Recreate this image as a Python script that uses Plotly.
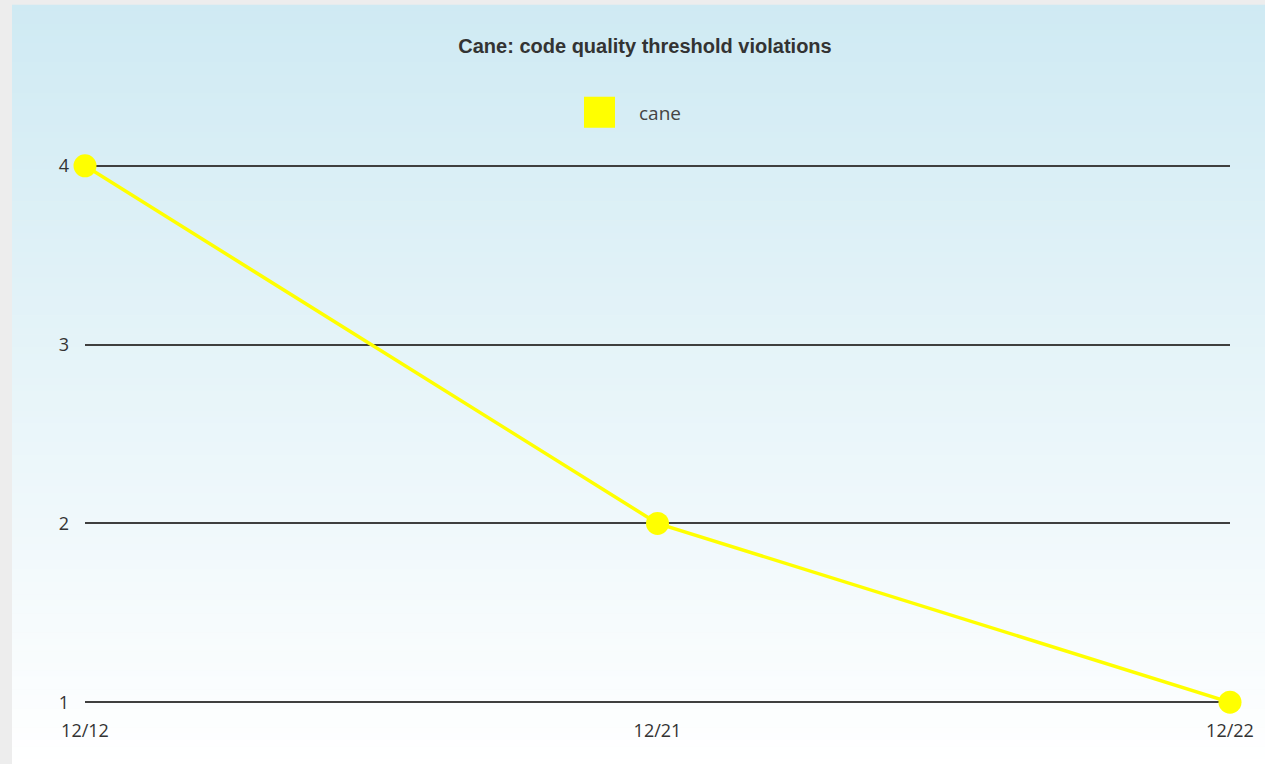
import plotly.graph_objects as go

categories = ["12/12", "12/21", "12/22"]
violations = [4, 2, 1]
y_ticks = [1, 2, 3, 4]
series_name = "cane"
title_text = "Cane: code quality threshold violations"

W, H = 1265, 764
L, R = 85, 1230
Y4, Y1 = 166, 702          # pixel rows of y=4 and y=1
EPS = 0.01
ppu = (Y1 - Y4) / 3.0
T = Y4 - EPS * ppu
B = Y1 + EPS * ppu


def px_to_paper_x(px):
    return (px - L) / (R - L)


def px_to_paper_y(py):
    return (B - py) / (B - T)


fig = go.Figure()
fig.add_trace(go.Scatter(
    x=categories, y=violations, mode="lines+markers", name=series_name,
    line=dict(color="#ffff00", width=3.5),
    marker=dict(color="#ffff00", size=23),
    cliponaxis=False, showlegend=False,
))

# background gradient panel (stripes)
shapes = []
top_px, bot_px = 5, 765
n = 120
c0 = (207, 234, 243)
c1 = (255, 255, 255)
for i in range(n):
    y0p = top_px + (bot_px - top_px) * i / n
    y1p = top_px + (bot_px - top_px) * (i + 1) / n + 0.6
    t = (i + 0.5) / n
    col = tuple(round(c0[k] + (c1[k] - c0[k]) * t) for k in range(3))
    shapes.append(dict(
        type="rect", xref="paper", yref="paper",
        x0=px_to_paper_x(12), x1=px_to_paper_x(1266),
        y0=px_to_paper_y(y1p), y1=px_to_paper_y(y0p),
        fillcolor="rgb(%d,%d,%d)" % col, line=dict(width=0), layer="below",
    ))

# legend swatch
shapes.append(dict(
    type="rect", xref="paper", yref="paper",
    x0=px_to_paper_x(584), x1=px_to_paper_x(615),
    y0=px_to_paper_y(128), y1=px_to_paper_y(97),
    fillcolor="#ffff00", line=dict(width=0), layer="above",
))

annotations = [
    dict(text=series_name, xref="paper", yref="paper",
         x=px_to_paper_x(637), y=px_to_paper_y(113),
         xanchor="left", yanchor="middle", showarrow=False,
         font=dict(family="Open Sans, Noto Sans, sans-serif", size=19, color="#444")),
]

tick_font = dict(family="Open Sans, Noto Sans, sans-serif", size=18, color="#333")

fig.update_layout(
    width=W, height=H,
    margin=dict(l=L, r=W - R, t=T, b=H - B, pad=0),
    paper_bgcolor="#ededed",
    plot_bgcolor="rgba(0,0,0,0)",
    title=dict(text="<b>" + title_text + "</b>", x=px_to_paper_x(645), xref="paper",
               xanchor="center", y=1 - 46 / H, yanchor="middle",
               font=dict(family="Liberation Sans, Arial, sans-serif", size=20, color="#333")),
    shapes=shapes,
    annotations=annotations,
    showlegend=False,
    xaxis=dict(type="category", range=[0, 2], showgrid=False, zeroline=False,
               showline=False, ticks="", ticklabelstandoff=14, tickfont=tick_font),
    yaxis=dict(range=[1 - EPS, 4 + EPS], tickvals=y_ticks, showgrid=True,
               gridcolor="#3f3f3f", gridwidth=1.5, zeroline=False, showline=False,
               ticks="", ticklabelstandoff=15, tickfont=tick_font),
)

fig.write_html("out.html", config={"displayModeBar": False},
               post_script="document.body.style.margin='0';document.body.style.overflow='hidden';")
